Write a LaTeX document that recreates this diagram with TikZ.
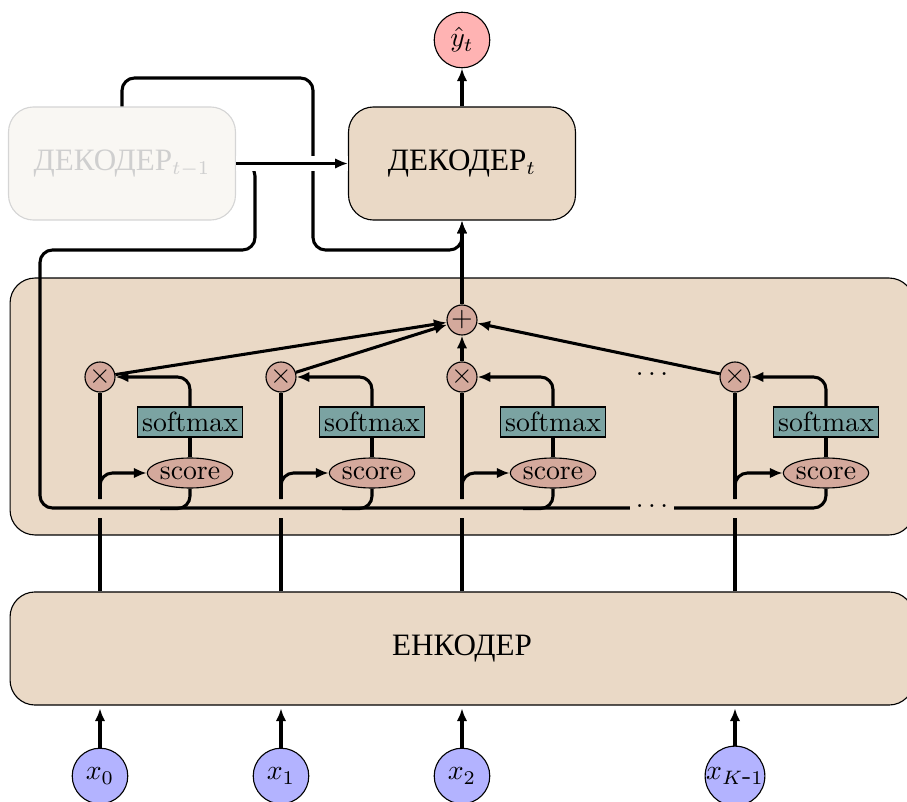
\documentclass[tikz,border=0pt]{standalone}
\usepackage{fontspec}
\newfontfamily\cyrfont[Scale=1.12]{Liberation Serif}
\usetikzlibrary{arrows.meta,shapes.geometric}
\definecolor{beige}{HTML}{EAD9C6}
\definecolor{rose}{HTML}{D4A99C}
\definecolor{tealbox}{HTML}{7BA3A2}
\definecolor{bluein}{HTML}{B3B3FF}
\definecolor{pinkout}{HTML}{FFB3B3}
\definecolor{fadefill}{HTML}{F9F7F3}
\definecolor{fadeline}{HTML}{D5D5D5}
\definecolor{fadetext}{HTML}{CFCFCF}
\begin{document}
\begin{tikzpicture}[x=0.36pt,y=-0.36pt,
  arr/.style={-{Latex[length=4.6pt,width=3.8pt]}, line width=1.1pt},
  ln/.style={line width=1.1pt},
  bigbox/.style={draw, fill=beige, rounded corners=9pt, line width=0.4pt},
  op/.style={circle, draw, fill=rose, minimum size=10.8pt, inner sep=0pt, line width=0.4pt},
  io/.style={circle, draw, minimum size=20pt, inner sep=0pt, line width=0.4pt},
  smax/.style={draw, fill=tealbox, minimum width=37.8pt, minimum height=10.8pt, inner sep=1pt, line width=0.4pt},
  scr/.style={ellipse, draw, fill=rose, minimum width=29.5pt, minimum height=10.8pt, inner sep=0pt, line width=0.4pt},
  rc/.style={rounded corners=4.5pt},
]
\useasboundingbox (0,0) rectangle (907,802);
\clip (0,0) rectangle (907,802);

% big boxes
\node[bigbox, minimum width=325.4pt, minimum height=92.5pt] (att) at (462,406.5) {};
\node[bigbox, minimum width=325.4pt, minimum height=40.7pt] (enc) at (462,648.5) {{\cyrfont ЕНКОДЕР}};
\node[bigbox, minimum width=81.7pt, minimum height=40.7pt] (dec) at (462,163.5) {{\cyrfont ДЕКОДЕР}$_t$};
\node[bigbox, draw=fadeline, fill=fadefill, text=fadetext, minimum width=81.7pt, minimum height=40.7pt] (decprev) at (122,163.5) {{\cyrfont ДЕКОДЕР}$_{t-1}$};

% io
\node[io, fill=pinkout] (y) at (462,40) {$\hat{y}_t$};
\node[io, fill=bluein] (x0) at (100,776) {$x_0$};
\node[io, fill=bluein] (x1) at (281,776) {$x_1$};
\node[io, fill=bluein] (x2) at (462,776) {$x_2$};
\node[io, fill=bluein] (x3) at (735,776) {$x_{K\mbox{-}1}$};

% ops
\node[op] (plus) at (462,320) {$+$};
\node[op] (t0) at (100,377) {$\times$};
\node[op] (t1) at (281,377) {$\times$};
\node[op] (t2) at (462,377) {$\times$};
\node[op] (t3) at (735,377) {$\times$};

\node[smax] (s0) at (190,422) {softmax};
\node[smax] (s1) at (372,422) {softmax};
\node[smax] (s2) at (553,422) {softmax};
\node[smax] (s3) at (826,422) {softmax};

\node[scr] (c0) at (190,473) {score};
\node[scr] (c1) at (372,473) {score};
\node[scr] (c2) at (553,473) {score};
\node[scr] (c3) at (826,473) {score};

\node (dt) at (652,374) {$\ldots$};

% input arrows
\foreach \i in {0,1,2,3} {
  \draw[arr, shorten >=1pt] (x\i.north) -- (x\i.north |- enc.south);
}

% encoder to multipliers
\foreach \i in {0,1,2,3} {
  \draw[ln] (t\i.south |- enc.north) -- (t\i.south);
}
% gaps where the decoder state line crosses
\foreach \xx in {100,281,462,735} {
  \fill[beige] (\xx-5,499) rectangle (\xx+5,518);
}

% branch into score
\foreach \i/\xx in {0/100,1/281,2/462,3/735} {
  \coordinate (b\i) at (\xx,499);
  \draw[arr, rc] (b\i) |- (c\i.west);
  \draw[ln] (c\i.north) -- (s\i.south);
  \draw[arr, rc] (s\i.north) |- (t\i.east);
}

% score bottoms join the decoder state line
\foreach \i in {0,1,2} {
  \draw[ln, rc] (c\i.south) |- ++(-30,20);
}

% multipliers to sum
\draw[arr] (t0) -- (plus);
\draw[arr] (t1) -- (plus);
\draw[arr] (t2) -- (plus);
\draw[arr] (t3) -- (plus);

\draw[arr] (plus) -- (dec.south);
\draw[arr] (dec.north) -- (y.south);

% decoder state line
\draw[ln, rc] (decprev.east) -| (255,250) -| (40,508) -| (c3.south);
\node[fill=beige, inner sep=1pt, minimum width=16pt] (db) at (652,506) {$\ldots$};

% top loop
\draw[arr, rc] (decprev.north) |- (313,78) -- (313,250) -| (dec.south);
\draw[arr, preaction={draw=white, line width=5.5pt, -}] (decprev.east) -- (dec.west);
\end{tikzpicture}
\end{document}
